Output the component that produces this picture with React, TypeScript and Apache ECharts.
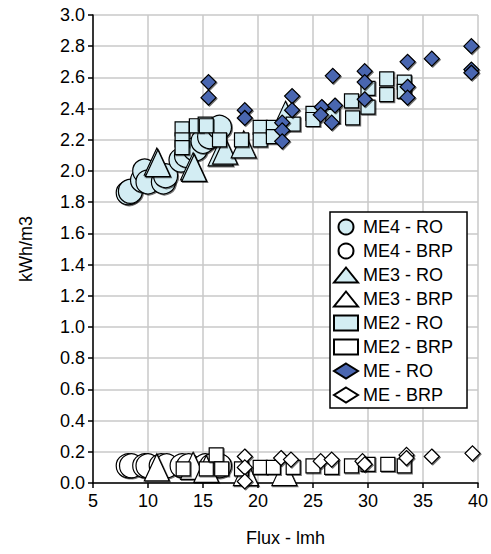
import React, { useEffect, useRef } from "react";
import * as echarts from "echarts";

const seriesNames = ["ME4 - RO", "ME4 - BRP", "ME3 - RO", "ME3 - BRP", "ME2 - RO", "ME2 - BRP", "ME - RO", "ME - BRP"];

const me4Ro: number[][] = [
  [8.2, 1.86], [8.4, 1.87], [9.5, 1.94], [9.7, 2.0], [10.0, 1.93], [11.4, 1.93], [11.6, 1.97],
  [13.0, 2.07], [13.5, 2.1], [14.3, 2.14], [15.0, 2.19], [15.6, 2.22], [16.5, 2.28],
];
const me4Brp: number[][] = [
  [8.2, 0.11], [8.5, 0.11], [9.7, 0.11], [10.0, 0.11], [11.2, 0.11], [11.7, 0.11], [13.1, 0.11],
  [13.7, 0.11], [15.2, 0.11], [15.8, 0.11], [16.5, 0.11],
];
const me3Ro: number[][] = [
  [10.8, 2.06], [10.9, 2.05], [14.1, 2.03], [14.2, 2.02], [16.6, 2.12], [17.0, 2.13], [18.7, 2.17], [22.5, 2.36],
];
const me3Brp: number[][] = [
  [10.8, 0.1], [14.1, 0.11], [15.3, 0.09], [18.9, 0.07], [22.4, 0.07],
];
const me2Ro: number[][] = [
  [13.1, 2.27], [13.1, 2.2], [13.1, 2.15], [14.4, 2.29], [15.2, 2.3], [15.3, 2.29], [16.5, 2.2],
  [18.5, 2.2], [20.2, 2.28], [20.2, 2.2], [21.4, 2.28], [21.4, 2.22], [23.2, 2.3], [25.0, 2.37],
  [25.0, 2.33], [26.8, 2.35], [28.5, 2.45], [28.6, 2.34], [30.0, 2.53], [30.0, 2.41], [31.7, 2.59],
  [31.7, 2.49], [33.3, 2.57], [33.3, 2.51],
];
const me2Brp: number[][] = [
  [13.2, 0.09], [15.3, 0.09], [16.2, 0.18], [16.7, 0.09], [18.5, 0.09], [20.2, 0.1], [21.4, 0.1],
  [23.2, 0.1], [25.0, 0.11], [26.7, 0.1], [28.5, 0.11], [30.0, 0.12], [31.8, 0.12], [33.3, 0.11],
];
const meRo: number[][] = [
  [15.5, 2.57], [15.5, 2.47], [18.8, 2.39], [18.8, 2.34], [22.2, 2.31], [22.2, 2.26], [22.2, 2.19],
  [23.1, 2.48], [23.1, 2.39], [25.8, 2.41], [25.7, 2.36], [26.7, 2.31], [27.0, 2.42], [26.8, 2.61],
  [29.7, 2.64], [29.7, 2.57], [29.7, 2.46], [33.6, 2.7], [33.6, 2.54], [33.6, 2.47], [35.8, 2.72],
  [39.4, 2.8], [39.4, 2.65], [39.4, 2.63],
];
const meBrp: number[][] = [
  [18.8, 0.17], [18.8, 0.1], [18.8, 0.01], [22.1, 0.16], [23.0, 0.15], [25.7, 0.14], [26.7, 0.15],
  [29.5, 0.14], [29.7, 0.12], [33.5, 0.18], [33.5, 0.16], [35.8, 0.17], [39.5, 0.19],
];

const LIGHT = "#d3edf3";
const BLUE = "#4a66b0";
const FONT = "'Liberation Sans', Arial, Helvetica, sans-serif";

export default function App() {
  const ref = useRef<HTMLDivElement>(null);
  useEffect(() => {
    if (!ref.current) return;
    const chart = echarts.init(ref.current, null, { renderer: "svg" });
    const mk = (name: string, data: number[][], symbol: string, size: any, fill: string) => ({
      name,
      type: "scatter",
      data,
      symbol,
      symbolSize: size,
      itemStyle: {
        color: fill,
        borderColor: "#000",
        borderWidth: 1.2,
        opacity: 1,
        shadowColor: "rgba(0,0,0,0.55)",
        shadowBlur: 0,
        shadowOffsetX: 1,
        shadowOffsetY: 1,
      },
      emphasis: { disabled: true },
    });
    const axisText = { color: "#000", fontSize: 18, fontFamily: FONT };
    chart.setOption({
      animation: false,
      textStyle: { fontFamily: FONT },
      grid: { left: 93, right: 13, top: 15, bottom: 71, containLabel: false },
      xAxis: {
        type: "value",
        min: 5,
        max: 40,
        interval: 5,
        name: "Flux - lmh",
        nameLocation: "middle",
        nameGap: 46,
        nameTextStyle: axisText,
        axisLine: { onZero: false, lineStyle: { color: "#000", width: 1.5 } },
        axisTick: { show: true, length: 5, lineStyle: { color: "#000", width: 1.5 } },
        axisLabel: { ...axisText, margin: 9 },
        splitLine: { show: true, lineStyle: { color: "#c8c8c8", width: 1.5 } },
      },
      yAxis: {
        type: "value",
        min: 0,
        max: 3,
        interval: 0.2,
        name: "kWh/m3",
        nameLocation: "middle",
        nameGap: 58,
        nameTextStyle: axisText,
        axisLine: { onZero: false, lineStyle: { color: "#000", width: 1.5 } },
        axisTick: { show: true, length: 5, lineStyle: { color: "#000", width: 1.5 } },
        axisLabel: { ...axisText, margin: 8, formatter: (v: number) => v.toFixed(1) },
        splitLine: { show: true, lineStyle: { color: "#c8c8c8", width: 1.5 } },
      },
      legend: {
        orient: "vertical",
        left: 330,
        top: 212,
        backgroundColor: "#fff",
        borderColor: "#000",
        borderWidth: 1.5,
        padding: [6, 14, 4, 3],
        itemWidth: 24,
        itemHeight: 15,
        itemGap: 6,
        textStyle: { color: "#000", fontSize: 18, fontFamily: FONT, lineHeight: 18 },
        itemStyle: { shadowBlur: 0, shadowOffsetX: 0, shadowOffsetY: 0, shadowColor: "transparent" },
        selectedMode: false,
        data: [
          { name: seriesNames[0], icon: "circle" },
          { name: seriesNames[1], icon: "circle" },
          { name: seriesNames[2], icon: "triangle" },
          { name: seriesNames[3], icon: "triangle" },
          { name: seriesNames[4], icon: "rect" },
          { name: seriesNames[5], icon: "rect" },
          { name: seriesNames[6], icon: "diamond" },
          { name: seriesNames[7], icon: "diamond" },
        ],
      },
      series: [
        mk(seriesNames[0], me4Ro, "circle", 24, LIGHT),
        mk(seriesNames[1], me4Brp, "circle", 24, "#fff"),
        mk(seriesNames[2], me3Ro, "triangle", [25, 27], LIGHT),
        mk(seriesNames[3], me3Brp, "triangle", [25, 27], "#fff"),
        mk(seriesNames[4], me2Ro, "rect", 14, LIGHT),
        mk(seriesNames[5], me2Brp, "rect", 14, "#fff"),
        mk(seriesNames[6], meRo, "diamond", 15, BLUE),
        mk(seriesNames[7], meBrp, "diamond", 15, "#fff"),
      ],
    });
    return () => chart.dispose();
  }, []);
  return <div ref={ref} style={{ width: 491, height: 554, position: "absolute", left: 0, top: 0, background: "#fff" }} />;
}
